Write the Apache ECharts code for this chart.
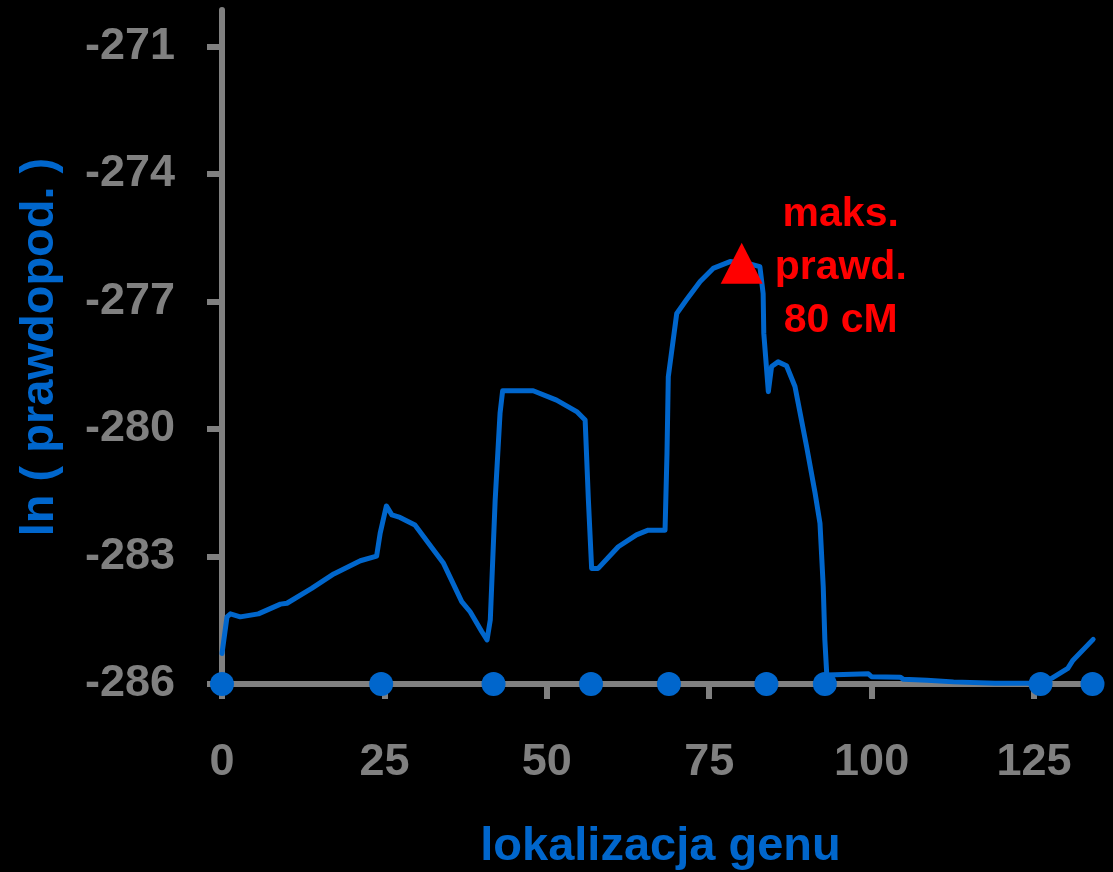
<!DOCTYPE html>
<html><head><meta charset="utf-8">
<script src="https://cdn.jsdelivr.net/npm/echarts@6/dist/echarts.min.js"></script>
<style>html,body{margin:0;padding:0;background:#000;overflow:hidden}#c{width:1113px;height:872px;}</style>
</head><body><div id="c"></div>
<script>
// Likelihood curve (gene location in cM, ln likelihood)
const curveX = [0, 0.77, 1.3, 2.8, 5.6, 9.0, 10, 13.8, 17.2, 21.3, 23.8, 24.35, 25.3, 26.15, 27.4, 29.7, 32.6, 34.1, 36.9, 38.2, 40.0, 40.8, 41.3, 42.05, 42.8, 43.2, 47.9, 51.5, 54.6, 55.9, 56.4, 56.9, 57.9, 61.0, 63.8, 65.6, 68.2, 68.5, 68.7, 70.0, 71.5, 73.6, 75.6, 78.2, 80.8, 82.8, 83.3, 83.4, 83.8, 84.1, 84.6, 85.6, 86.9, 88.2, 90.0, 91.3, 92.05, 92.55, 92.8, 93.1, 99.5, 100, 104.4, 104.9, 108.5, 112.6, 119, 125.4, 127.7, 130.2, 131, 134.1];
const curveY = [-285.28, -284.42, -284.35, -284.42, -284.35, -284.12, -284.10, -283.75, -283.41, -283.10, -282.99, -282.45, -281.81, -282.02, -282.08, -282.26, -282.85, -283.16, -284.06, -284.30, -284.77, -284.96, -284.49, -281.67, -279.63, -279.10, -279.10, -279.32, -279.59, -279.79, -281.67, -283.28, -283.28, -282.77, -282.49, -282.38, -282.38, -280.57, -278.77, -277.28, -276.96, -276.53, -276.22, -276.06, -276.10, -276.18, -276.81, -277.75, -278.53, -279.12, -278.53, -278.42, -278.51, -279.0, -280.42, -281.51, -282.22, -283.71, -284.96, -285.79, -285.76, -285.83, -285.84, -285.89, -285.91, -285.95, -285.98, -285.98, -285.87, -285.63, -285.44, -284.95];
// Marker loci on the chromosome
const markerX = [0, 24.5, 41.8, 56.8, 68.8, 83.8, 92.8, 126, 134];
const markerLevel = -286;
// Maximum likelihood point
const peakX = 80;
const peakY = -276.1;
const peakText = 'maks.\nprawd.\n80 cM';
// Axis ticks
const xTicks = [0, 25, 50, 75, 100, 125];
const yTicks = [-286, -283, -280, -277, -274, -271];
const xName = 'lokalizacja genu';
const yName = 'ln ( prawdopod. )';

const blue = '#0066CC';
const gray = '#808080';
const font = '"Liberation Sans", Arial, sans-serif';

const chart = echarts.init(document.getElementById('c'), null, {renderer: 'canvas'});
chart.setOption({
  backgroundColor: '#000',
  animation: false,
  grid: {left: 222, right: 14, top: 10, bottom: 188, containLabel: false, outerBoundsMode: 'none'},
  xAxis: {
    type: 'value', min: 0, max: 135,
    axisLine: {show: true, onZero: false, lineStyle: {color: gray, width: 6}},
    axisTick: {show: true, inside: false, length: 15, lineStyle: {color: gray, width: 6}, customValues: xTicks},
    axisLabel: {color: gray, fontSize: 45, fontWeight: 'bold', fontFamily: font, margin: 56, customValues: xTicks},
    splitLine: {show: false},
    name: xName, nameLocation: 'middle', nameGap: 140,
    nameTextStyle: {color: blue, fontSize: 47, fontWeight: 'bold', fontFamily: font}
  },
  yAxis: {
    type: 'value', min: -286, max: -270.14,
    axisLine: {show: true, onZero: false, lineStyle: {color: gray, width: 6}},
    axisTick: {show: true, inside: false, length: 15, lineStyle: {color: gray, width: 6}, customValues: yTicks},
    axisLabel: {color: gray, fontSize: 45, fontWeight: 'bold', fontFamily: font, margin: 47, padding: [5, 0, 0, 0], customValues: yTicks},
    splitLine: {show: false},
    name: yName, nameLocation: 'middle', nameGap: 158, nameRotate: 90,
    nameTextStyle: {color: blue, fontSize: 47, fontWeight: 'bold', fontFamily: font}
  },
  series: [
    {
      type: 'line', data: curveX.map((x, i) => [x, curveY[i]]),
      showSymbol: false, symbol: 'none', smooth: false, clip: false,
      lineStyle: {color: blue, width: 5, join: 'round', cap: 'round'}, z: 2
    },
    {
      type: 'scatter', data: markerX.map(x => [x, markerLevel]),
      symbol: 'circle', symbolSize: 24, itemStyle: {color: blue, opacity: 1}, clip: false, z: 3
    },
    {
      type: 'scatter', data: [[peakX, peakY]],
      symbol: 'triangle', symbolSize: [42, 41], itemStyle: {color: '#FF0000', opacity: 1}, z: 4, clip: false,
      label: {
        show: true, formatter: peakText, position: [120, 25], align: 'center', verticalAlign: 'middle',
        color: '#FF0000', opacity: 1, fontSize: 41, fontWeight: 'bold', fontFamily: font, lineHeight: 53
      }
    }
  ]
});
</script>
</body></html>
